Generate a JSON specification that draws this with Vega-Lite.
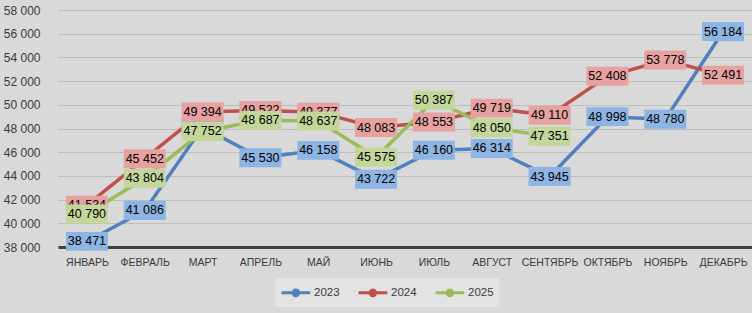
{
  "$schema": "https://vega.github.io/schema/vega-lite/v6.json",
  "width": 694,
  "height": 237,
  "autosize": {"type": "none"},
  "padding": {"left": 58, "top": 10, "right": 0, "bottom": 66},
  "background": "#d9d9d9",
  "config": {
    "locale": {"number": {"decimal": ",", "thousands": " ", "grouping": [3], "currency": ["", ""]}},
    "view": {"stroke": null},
    "font": "Liberation Sans",
    "axis": {"labelFont": "Liberation Sans", "labelFontSize": 12, "labelColor": "#3a3a3a", "title": null},
    "legend": {"labelFont": "Liberation Sans"}
  },
  "data": {
    "values": [
      {"month": "ЯНВАРЬ", "year": "2023", "value": 38471},
      {"month": "ФЕВРАЛЬ", "year": "2023", "value": 41086},
      {"month": "МАРТ", "year": "2023", "value": 48100},
      {"month": "АПРЕЛЬ", "year": "2023", "value": 45530},
      {"month": "МАЙ", "year": "2023", "value": 46158},
      {"month": "ИЮНЬ", "year": "2023", "value": 43722},
      {"month": "ИЮЛЬ", "year": "2023", "value": 46160},
      {"month": "АВГУСТ", "year": "2023", "value": 46314},
      {"month": "СЕНТЯБРЬ", "year": "2023", "value": 43945},
      {"month": "ОКТЯБРЬ", "year": "2023", "value": 48998},
      {"month": "НОЯБРЬ", "year": "2023", "value": 48780},
      {"month": "ДЕКАБРЬ", "year": "2023", "value": 56184},
      {"month": "ЯНВАРЬ", "year": "2024", "value": 41534},
      {"month": "ФЕВРАЛЬ", "year": "2024", "value": 45452},
      {"month": "МАРТ", "year": "2024", "value": 49394},
      {"month": "АПРЕЛЬ", "year": "2024", "value": 49522},
      {"month": "МАЙ", "year": "2024", "value": 49377},
      {"month": "ИЮНЬ", "year": "2024", "value": 48083},
      {"month": "ИЮЛЬ", "year": "2024", "value": 48553},
      {"month": "АВГУСТ", "year": "2024", "value": 49719},
      {"month": "СЕНТЯБРЬ", "year": "2024", "value": 49110},
      {"month": "ОКТЯБРЬ", "year": "2024", "value": 52408},
      {"month": "НОЯБРЬ", "year": "2024", "value": 53778},
      {"month": "ДЕКАБРЬ", "year": "2024", "value": 52491},
      {"month": "ЯНВАРЬ", "year": "2025", "value": 40790},
      {"month": "ФЕВРАЛЬ", "year": "2025", "value": 43804},
      {"month": "МАРТ", "year": "2025", "value": 47752},
      {"month": "АПРЕЛЬ", "year": "2025", "value": 48687},
      {"month": "МАЙ", "year": "2025", "value": 48637},
      {"month": "ИЮНЬ", "year": "2025", "value": 45575},
      {"month": "ИЮЛЬ", "year": "2025", "value": 50387},
      {"month": "АВГУСТ", "year": "2025", "value": 48050},
      {"month": "СЕНТЯБРЬ", "year": "2025", "value": 47351}
    ]
  },
  "encoding": {
    "x": {
      "field": "month",
      "type": "ordinal",
      "sort": ["ЯНВАРЬ", "ФЕВРАЛЬ", "МАРТ", "АПРЕЛЬ", "МАЙ", "ИЮНЬ", "ИЮЛЬ", "АВГУСТ", "СЕНТЯБРЬ", "ОКТЯБРЬ", "НОЯБРЬ", "ДЕКАБРЬ"],
      "axis": {"labelAngle": 0, "ticks": false, "domainColor": "#404040", "domainWidth": 3, "labelPadding": 10, "grid": false, "labelFontSize": 10.5}
    },
    "y": {
      "field": "value",
      "type": "quantitative",
      "scale": {"domain": [38000, 58000], "nice": false, "zero": false},
      "axis": {"values": [38000, 40000, 42000, 44000, 46000, 48000, 50000, 52000, 54000, 56000, 58000], "format": ",d", "domain": false, "ticks": false, "labelPadding": 18, "gridColor": "#bdbdbd", "gridWidth": 1}
    }
  },
  "layer": [
    {
      "data": {"values": [{"t": "S   O   Y   A   N   E   W   S"}]},
      "mark": {"type": "text", "fontSize": 26, "fontWeight": "bold", "color": "#9a9a9a", "opacity": 0.85, "dx": -28, "font": "DejaVu Sans"},
      "encoding": {"x": {"datum": "ИЮЛЬ"}, "y": {"datum": 41600}, "text": {"field": "t"}}
    },
    {
      "mark": {"type": "line", "strokeWidth": 3.5},
      "encoding": {
        "color": {
          "field": "year",
          "type": "nominal",
          "scale": {"domain": ["2023", "2024", "2025"], "range": ["#4f81bd", "#c0504d", "#9bbb59"]},
          "legend": {
            "orient": "none",
            "legendX": 217,
            "legendY": 268,
            "direction": "horizontal",
            "title": null,
            "symbolType": "M-1,0L2.6,0M0.45,0A0.35,0.35,0,1,1,1.15,0A0.35,0.35,0,1,1,0.45,0Z",
            "symbolSize": 256,
            "symbolStrokeWidth": 3,
            "fillColor": "#e3e3e3",
            "padding": 5,
            "labelFontSize": 11.5,
            "labelColor": "#3a3a3a",
            "columnPadding": 12,
            "labelOffset": 15,
            "encode": {"symbols": {"update": {"fill": {"scale": "color", "field": "value"}, "stroke": {"scale": "color", "field": "value"}, "strokeWidth": {"value": 3}}}}
          }
        }
      }
    },
    {
      "mark": {"type": "point", "filled": true, "shape": "circle", "size": 314, "opacity": 1},
      "encoding": {"color": {"field": "year", "type": "nominal", "legend": null}}
    },
    {
      "transform": [{"filter": "datum.year == '2023'"}],
      "mark": {"type": "point", "filled": true, "shape": "M-1,-0.45H1V0.45H-1Z", "size": 1764, "opacity": 1, "color": "#8db4e2"}
    },
    {
      "transform": [{"filter": "datum.year == '2023'"}],
      "mark": {"type": "text", "fontSize": 12.5, "color": "#000000"},
      "encoding": {"text": {"field": "value", "type": "quantitative", "format": ",d"}}
    },
    {
      "transform": [{"filter": "datum.year == '2024'"}],
      "mark": {"type": "point", "filled": true, "shape": "M-1,-0.45H1V0.45H-1Z", "size": 1764, "opacity": 1, "color": "#e6a1a0"}
    },
    {
      "transform": [{"filter": "datum.year == '2024'"}],
      "mark": {"type": "text", "fontSize": 12.5, "color": "#000000"},
      "encoding": {"text": {"field": "value", "type": "quantitative", "format": ",d"}}
    },
    {
      "transform": [{"filter": "datum.year == '2025'"}],
      "mark": {"type": "point", "filled": true, "shape": "M-1,-0.45H1V0.45H-1Z", "size": 1764, "opacity": 1, "color": "#c4d79b"}
    },
    {
      "transform": [{"filter": "datum.year == '2025'"}],
      "mark": {"type": "text", "fontSize": 12.5, "color": "#000000"},
      "encoding": {"text": {"field": "value", "type": "quantitative", "format": ",d"}}
    }
  ]
}
